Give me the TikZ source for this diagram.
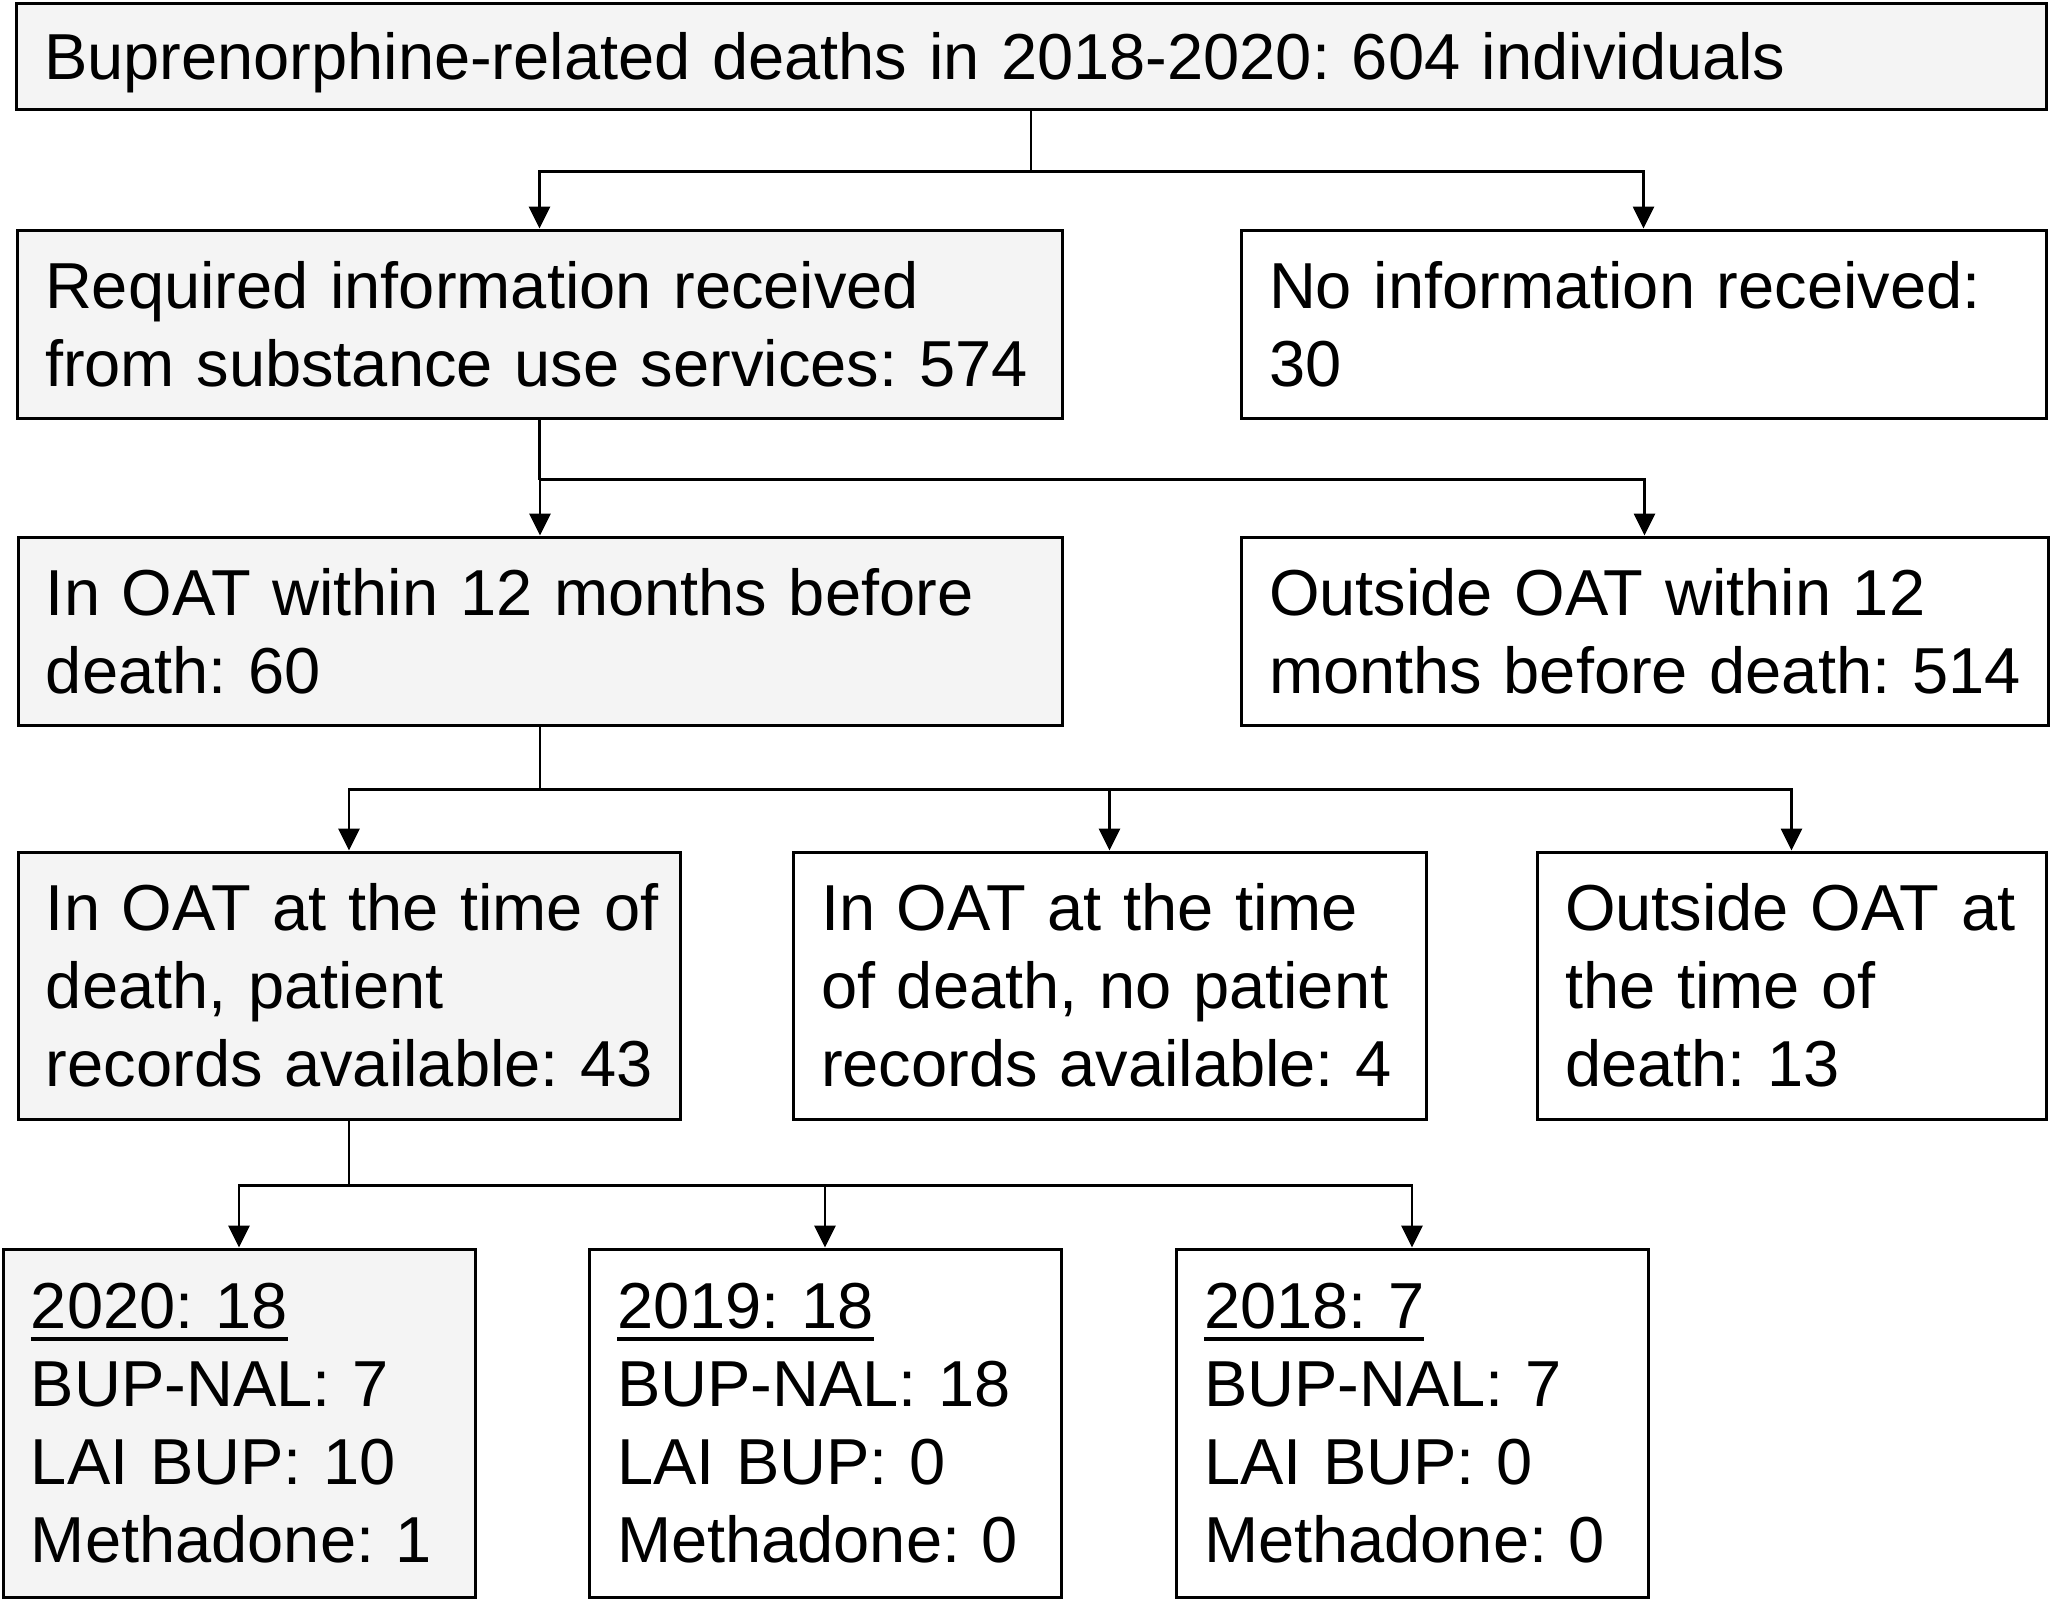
\documentclass[tikz,border=0pt]{standalone}
\usepackage{fontspec}
\setmainfont{Liberation Sans}
\usetikzlibrary{arrows.meta}
\definecolor{boxgray}{RGB}{244,244,244}
\newcommand\tline[1]{\mbox{#1}}
\newcommand\uline[1]{\vtop{\hbox{#1}\kern2.1pt\hrule height0.8pt}}
\begin{document}
\begin{tikzpicture}[x=0.25pt,y=-0.25pt,
  box/.style={draw=black, line width=0.75pt, rectangle, inner xsep=7pt, inner ysep=0pt,
    align=left, font=\fontsize{16.25pt}{19.5pt}\selectfont\frenchspacing, anchor=center},
  shaded/.style={box, fill=boxgray},
  plain/.style={box, fill=white},
  link/.style={line width=0.7pt, draw=black},
  arr/.style={link, -{Triangle[length=5.5pt,width=5.25pt]}}]
\useasboundingbox (0,0) rectangle (2056,1600);

% row 1
\node[shaded, text depth=0pt, minimum height=26.5pt, text width=493.5pt] (b1) at (1031,56)
  {\tline{Buprenorphine-related deaths in 2018-2020: 604 individuals}};
% row 2
\node[shaded, minimum height=47pt, text width=247.25pt] (b2) at (539.5,324)
  {\tline{Required information received}\\\tline{from substance use services: 574}};
\node[plain, minimum height=47pt, text width=187.25pt] (b3) at (1643.5,324)
  {\tline{No information received:}\\\tline{30}};
% row 3
\node[shaded, minimum height=47pt, text width=247pt] (b4) at (540,631)
  {\tline{In OAT within 12 months before}\\\tline{death: 60}};
\node[plain, minimum height=47pt, text width=187.75pt] (b5) at (1644.5,631)
  {\tline{Outside OAT within 12}\\\tline{months before death: 514}};
% row 4
\node[shaded, minimum height=66.75pt, text width=151.5pt] (b6) at (349,985.5)
  {\tline{In OAT at the time of}\\\tline{death, patient}\\\tline{records available: 43}};
\node[plain, minimum height=66.75pt, text width=144.25pt] (b7) at (1109.5,985.5)
  {\tline{In OAT at the time}\\\tline{of death, no patient}\\\tline{records available: 4}};
\node[plain, minimum height=66.75pt, text width=113.25pt] (b8) at (1791.5,985.5)
  {\tline{Outside OAT at}\\\tline{the time of}\\\tline{death: 13}};
% row 5
\node[shaded, minimum height=87pt, text width=104pt] (b9) at (239,1423)
  {\tline{\uline{2020: 18}}\\\tline{BUP-NAL: 7}\\\tline{LAI BUP: 10}\\\tline{Methadone: 1}};
\node[plain, minimum height=87pt, text width=104pt] (b10) at (825,1423)
  {\tline{\uline{2019: 18}}\\\tline{BUP-NAL: 18}\\\tline{LAI BUP: 0}\\\tline{Methadone: 0}};
\node[plain, minimum height=87pt, text width=104pt] (b11) at (1412,1423)
  {\tline{\uline{2018: 7}}\\\tline{BUP-NAL: 7}\\\tline{LAI BUP: 0}\\\tline{Methadone: 0}};

% connectors
\path (b1.south) ++(0,61) coordinate (j1);
\path (b2.south) ++(0,60) coordinate (j2);
\path (b4.south) ++(0,63) coordinate (j3);
\path (b6.south) ++(0,65) coordinate (j4);

\draw[link] (b1.south) -- (j1);
\draw[arr] (j1) -| (b2);
\draw[arr] (j1) -| (b3);

\draw[link] (b2.south) -- (j2);
\draw[arr] (j2) -| (b4);
\draw[arr] (j2) -| (b5);

\draw[link] (b4.south) -- (j3);
\draw[arr] (j3) -| (b6);
\draw[arr] (j3) -| (b7);
\draw[arr] (j3) -| (b8);

\draw[link] (b6.south) -- (j4);
\draw[arr] (j4) -| (b9);
\draw[arr] (j4) -| (b10);
\draw[arr] (j4) -| (b11);
\end{tikzpicture}
\end{document}
